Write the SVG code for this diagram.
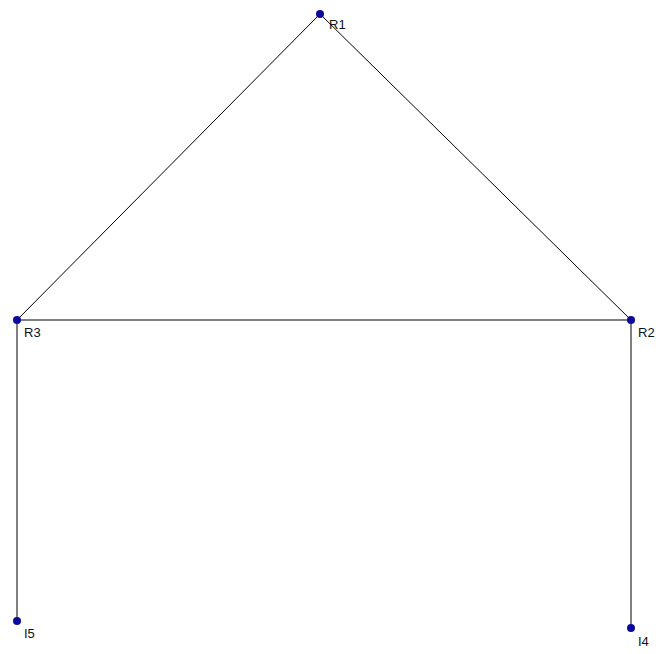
<svg xmlns="http://www.w3.org/2000/svg" width="665" height="654" viewBox="0 0 665 654">
<style>
.e{stroke:#000;stroke-width:1;fill:none}
.n{fill:#0a0a9c}
.t{font-family:"Liberation Sans",Arial,sans-serif;font-size:13px;fill:#111}
</style>
<rect width="665" height="654" fill="#fff"/>
<g id="connectors">
<line class="e" x1="320" y1="14" x2="17" y2="320"/>
<line class="e" x1="320" y1="14" x2="631" y2="320"/>
<line class="e" x1="17" y1="320" x2="631" y2="320"/>
<line class="e" x1="17" y1="320" x2="17" y2="621"/>
<line class="e" x1="631" y1="320" x2="631" y2="628"/>
</g>
<g id="R1"><circle class="n" cx="320" cy="14" r="4"/><text class="t" x="329" y="29">R1</text></g>
<g id="R3"><circle class="n" cx="17" cy="320" r="4"/><text class="t" x="24" y="337">R3</text></g>
<g id="R2"><circle class="n" cx="631" cy="320" r="4"/><text class="t" x="638" y="337">R2</text></g>
<g id="I5"><circle class="n" cx="17" cy="621" r="4"/><text class="t" x="24" y="638">I5</text></g>
<g id="I4"><circle class="n" cx="631" cy="628" r="4"/><text class="t" x="638" y="646">I4</text></g>
</svg>
